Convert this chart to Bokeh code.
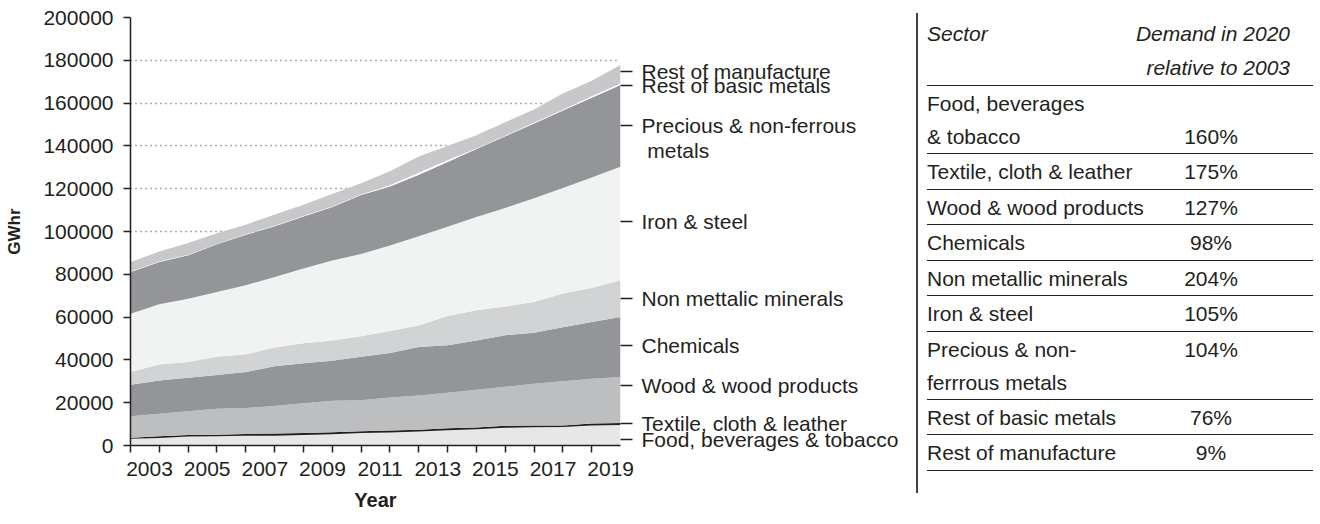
from bokeh.plotting import figure
from bokeh.models import ColumnDataSource, FixedTicker, LinearAxis, NumeralTickFormatter, Range1d, Div
from bokeh.layouts import row
from bokeh.embed import file_html
from bokeh.resources import INLINE

# ---------------- data (GWhr) ----------------
years = list(range(2003, 2021))
food = [3100, 3500, 4200, 4300, 4500, 4600, 4900, 5300, 5800, 6100, 6600, 7100, 7600, 8300, 8500, 8600, 9400, 9600]
textile = [500, 800, 700, 700, 900, 1000, 900, 900, 900, 900, 800, 1000, 800, 900, 800, 800, 900, 900]
wood = [10100, 10500, 11100, 12200, 12100, 12900, 13900, 14700, 14500, 15400, 16000, 16500, 17600, 18200, 19600, 20600, 20900, 21500]
chemicals = [14700, 15600, 15700, 15700, 16800, 18500, 18700, 18700, 20300, 20800, 22600, 22200, 23100, 24100, 23800, 25300, 26500, 28000]
non_metallic = [5900, 7500, 7300, 8600, 8300, 8800, 9400, 9500, 9500, 10300, 10100, 13700, 14100, 13500, 14300, 15700, 15900, 17200]
iron_steel = [27300, 28100, 29600, 30200, 32300, 32900, 34900, 37400, 38500, 40000, 41700, 41700, 43600, 46000, 48500, 49300, 51600, 53000]
precious = [19500, 19800, 20300, 22300, 23600, 23800, 24300, 25000, 27500, 27500, 28700, 30300, 31700, 33500, 35000, 36200, 37300, 38200]
basic_metals = [200, 200, 200, 200, 200, 200, 200, 200, 300, 600, 1000, 800, 300, 300, 300, 400, 700, 800]
rest_manufacture = [4500, 4600, 5500, 5000, 4500, 5200, 5300, 5800, 5300, 6500, 7500, 6700, 6200, 6200, 6200, 7600, 7300, 8600]

series_keys = ["food", "textile", "wood", "chemicals", "non_metallic", "iron_steel", "precious", "basic_metals", "rest_manufacture"]
series_labels = ["Food, beverages & tobacco", "Textile, cloth & leather", "Wood & wood products", "Chemicals",
                 "Non mettalic minerals", "Iron & steel", "Precious & non-ferrous", "Rest of basic metals",
                 "Rest of manufacture"]
label_continuation = "\u00a0metals"  # second line of the "Precious & non-ferrous" label
y_ticks = list(range(0, 200001, 20000))
x_label_years = list(range(2003, 2020, 2))

# table
table_sector_lines = [["Food, beverages", "& tobacco"], ["Textile, cloth & leather"], ["Wood & wood products"],
                      ["Chemicals"], ["Non metallic minerals"], ["Iron & steel"],
                      ["Precious & non-", "ferrrous metals"], ["Rest of basic metals"], ["Rest of manufacture"]]
table_pct = [160, 175, 127, 98, 204, 105, 104, 76, 9]
table_header = ["Sector", "Demand in 2020", "relative to 2003"]

# ---------------- styles / layout ----------------
colors = ["#e6e7e8", "#231f20", "#bcbec0", "#939598", "#d1d3d4", "#f1f2f2", "#939598", "#ffffff", "#c7c8ca"]
label_anchor = [2800, 10400, 28100, 46500, 68600, 104900, 149400, 168100, 174600]  # label tick heights
continuation_anchor = 138000
pct_line_index = [1, 0, 0, 0, 0, 0, 0, 0, 0]
FONT_NAME = "Liberation Sans"
INK = "#231f20"
FS = "21px"
year_label_shift = 0.66

CHART_W, CHART_H = 925, 520
BORDER_L, BORDER_R, BORDER_T, BORDER_B = 130, 305, 17, 75

src = ColumnDataSource(dict(year=years, food=food, textile=textile, wood=wood, chemicals=chemicals,
                            non_metallic=non_metallic, iron_steel=iron_steel, precious=precious,
                            basic_metals=basic_metals, rest_manufacture=rest_manufacture))

p = figure(width=CHART_W, height=CHART_H, x_range=Range1d(2003, 2020), y_range=Range1d(0, 200000),
           output_backend="svg", toolbar_location=None,
           min_border_left=BORDER_L, min_border_right=BORDER_R, min_border_top=BORDER_T,
           min_border_bottom=BORDER_B)
p.outline_line_color = None
p.background_fill_color = "white"
p.border_fill_color = "white"

p.varea_stack(stackers=series_keys, x="year", color=colors, source=src)

# grid
p.xgrid.grid_line_color = None
p.ygrid.grid_line_color = "#58595b"
p.ygrid.grid_line_dash = "1 4"
p.ygrid.grid_line_width = 1.5

# y axis
ya = p.yaxis[0]
ya.ticker = FixedTicker(ticks=y_ticks)
ya.formatter = NumeralTickFormatter(format="0")
ya.axis_label = "GWhr"
ya.axis_label_text_font = FONT_NAME
ya.axis_label_text_font_style = "bold"
ya.axis_label_text_font_size = "17px"
ya.axis_label_text_color = INK
ya.axis_label_standoff = 16
ya.major_label_text_font = FONT_NAME
ya.major_label_text_font_size = FS
ya.major_label_text_color = INK
ya.major_label_standoff = 10
ya.major_tick_out = 7
ya.major_tick_in = 0
ya.minor_tick_line_color = None
ya.axis_line_color = INK
ya.axis_line_width = 1.5
ya.major_tick_line_color = INK
ya.major_tick_line_width = 1.5

# x axis: ticks at every year, labels on odd years shifted into the year band
xa = p.xaxis[0]
xa.ticker = FixedTicker(ticks=[y + year_label_shift for y in x_label_years], minor_ticks=years[:-1])
xa.formatter = NumeralTickFormatter(format="0", rounding="floor")
xa.major_tick_out = 0
xa.major_tick_in = 0
xa.minor_tick_out = 7
xa.minor_tick_in = 0
xa.minor_tick_line_color = INK
xa.minor_tick_line_width = 1.5
xa.axis_line_color = INK
xa.axis_line_width = 1.5
xa.major_label_standoff = 9
xa.major_label_text_font = FONT_NAME
xa.major_label_text_font_size = FS
xa.major_label_text_color = INK
xa.axis_label = "Year"
xa.axis_label_text_font = FONT_NAME
xa.axis_label_text_font_style = "bold"
xa.axis_label_text_font_size = "20px"
xa.axis_label_text_color = INK
xa.axis_label_standoff = 10

# right axis with series names (dashes drawn as minor ticks so the continuation line has none)
ra_ticks = label_anchor + [continuation_anchor]
ra_labels = series_labels + [label_continuation]
ra = LinearAxis(ticker=FixedTicker(ticks=ra_ticks, minor_ticks=label_anchor),
                major_label_overrides={k: v for k, v in zip(ra_ticks, ra_labels)})
ra.axis_line_color = None
ra.major_tick_out = 0
ra.major_tick_in = 0
ra.minor_tick_out = 12
ra.minor_tick_in = 0
ra.minor_tick_line_color = INK
ra.minor_tick_line_width = 1.5
ra.major_label_standoff = 9
ra.major_label_text_font = FONT_NAME
ra.major_label_text_font_size = FS
ra.major_label_text_color = INK
p.add_layout(ra, "right")

# ---------------- table (HTML block to the right of the chart) ----------------
DIV_W = 1320 - CHART_W
W, H = 407, CHART_H
X0 = 906                         # page x of the table block's left edge
shift = X0 - CHART_W             # table block starts slightly left of the div
col_sector = 927 - X0
col_pct = 1211 - X0
col_right_pad = W - (1290 - X0)
sep_x = 917 - X0

parts = []
parts.append(f'<div style="position:absolute;left:{sep_x - 1}px;top:13px;width:2px;height:480px;background:#414042"></div>')


def txt(x, y, s, align="left", italic=False):
    style = "font-style:italic;" if italic else ""
    if align == "left":
        pos = f"left:{x}px;transform:translateY(-50%);"
    elif align == "center":
        pos = f"left:{x}px;transform:translate(-50%,-50%);"
    else:
        pos = f"right:{x}px;transform:translateY(-50%);"
    return (f'<div style="position:absolute;top:{y}px;{pos}{style}white-space:nowrap;'
            f'line-height:1.15">{s}</div>')


def rule(y):
    return (f'<div style="position:absolute;left:{col_sector}px;top:{y - 0.75}px;width:{W - col_sector}px;'
            f'height:0;border-top:1.5px solid {INK}"></div>')


parts.append(txt(col_sector, 34, table_header[0], italic=True))
parts.append(txt(col_right_pad, 34, table_header[1], align="right", italic=True))
parts.append(txt(col_right_pad, 68, table_header[2], align="right", italic=True))

top = 86
parts.append(rule(top))
for lines, pct, pli in zip(table_sector_lines, table_pct, pct_line_index):
    h = 68 if len(lines) == 2 else 35.5
    for i, ln in enumerate(lines):
        parts.append(txt(col_sector, top + 18 + i * 33, ln.replace("&", "&amp;")))
    parts.append(txt(col_pct, top + 18 + pli * 33, f"{pct}%", align="center"))
    top += h
    parts.append(rule(top))

inner = (f'<div style="position:absolute;left:{shift}px;top:0;width:{W}px;height:{H}px;'
         f'font-family:\'{FONT_NAME}\';font-size:{FS};color:{INK}">' + "".join(parts) + "</div>")
html = f'<div style="position:relative;width:{DIV_W}px;height:{H}px;overflow:visible">{inner}</div>'
table = Div(text=html, width=DIV_W, height=H, styles={"margin": "0", "padding": "0", "overflow": "visible"})

layout = row(p, table)
open("out.html", "w").write(file_html(layout, INLINE))
